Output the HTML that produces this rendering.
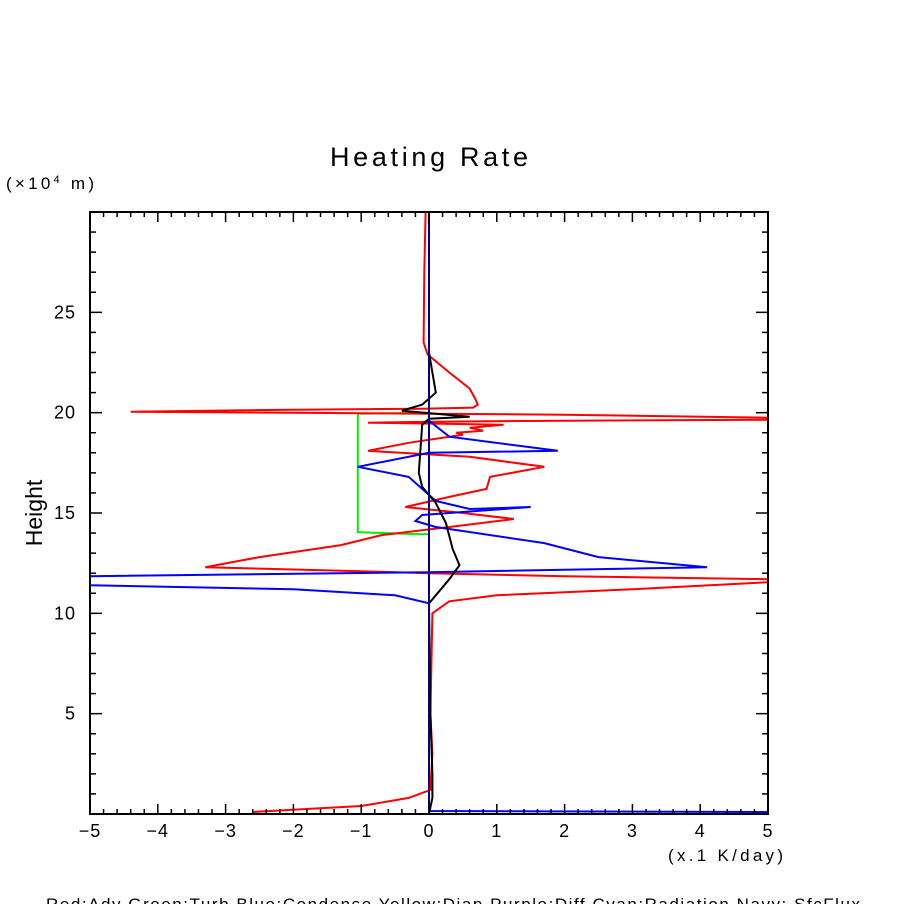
<!DOCTYPE html>
<html><head><meta charset="utf-8"><style>
html,body{margin:0;padding:0;background:#fff;}
svg text{font-family:"Liberation Sans",sans-serif;}
</style></head><body>
<svg id="chart" width="904" height="904" viewBox="0 0 904 904" xmlns="http://www.w3.org/2000/svg">
<rect width="904" height="904" fill="#fff"/>
<text x="330" y="166" font-size="27" textLength="198" lengthAdjust="spacing">Heating Rate</text>
<text x="6" y="189" font-size="17" textLength="88" lengthAdjust="spacing">(×10<tspan font-size="11" dy="-6">4</tspan><tspan dy="6"> m)</tspan></text>
<text transform="translate(42,513) rotate(-90)" font-size="23" text-anchor="middle">Height</text>
<text x="668" y="861" font-size="17" textLength="115" lengthAdjust="spacing">(x.1 K/day)</text>
<text x="46" y="910" font-size="17" textLength="814" lengthAdjust="spacing">Red:Adv  Green:Turb  Blue:Condense  Yellow:Diap  Purple:Diff  Cyan:Radiation  Navy: SfcFlux</text>
<g id="marks"></g>
<g id="axes"></g>
</svg>
<script>
const xTicks=[-5,-4,-3,-2,-1,0,1,2,3,4,5];
const yTicks=[5,10,15,20,25];
const redAdv=[[-0.05,30],[-0.07,27],[-0.08,23.5],[-0.02,22.9],[0.3,22],[0.6,21.2],[0.68,20.7],[0.72,20.4],[0.65,20.25],[-0.1,20.2],[-2,20.15],[-4.4,20.05],[-2,20.0],[0,19.95],[2,19.9],[5,19.75],[5,19.65],[2,19.6],[0,19.55],[-0.9,19.5],[0.2,19.45],[1.1,19.4],[0.6,19.25],[0.8,19.1],[0.4,19.0],[0.5,18.9],[-0.3,18.5],[-0.9,18.1],[0.6,17.8],[1.7,17.3],[0.9,16.8],[0.85,16.2],[0.3,15.8],[-0.35,15.3],[0.5,15.0],[1.25,14.7],[0.3,14.3],[-0.7,13.9],[-1.3,13.4],[-2.5,12.8],[-3.3,12.3],[-1,12.1],[0,12.0],[2,11.85],[5,11.7],[5,11.55],[3,11.2],[1,10.9],[0.3,10.6],[0.05,10.0],[0.02,5],[0.05,3],[0.02,1.2],[-0.3,0.8],[-1,0.4],[-2.6,0.1]];
const blueCond=[[0,30],[0,19.6],[0.3,18.8],[1.9,18.1],[0,18.0],[-1.05,17.3],[-0.3,16.8],[0.1,15.6],[0.6,15.2],[1.5,15.3],[0.7,15.1],[-0.1,14.9],[-0.2,14.6],[0.1,14.3],[1.7,13.5],[2.5,12.8],[4.1,12.3],[0,12.05],[-5,11.85],[-5,11.4],[-2,11.2],[-0.5,10.9],[0,10.5],[0,0.15],[5,0.1]];
const blackTot=[[0,30],[0,23],[0.05,22],[0.1,21],[-0.1,20.4],[-0.4,20.1],[0.6,19.8],[0,19.7],[-0.1,19.4],[-0.15,17],[-0.1,16.3],[0.1,15.5],[0.25,14.5],[0.35,13.2],[0.45,12.4],[0.3,11.7],[0.1,10.9],[0,10.5],[0.02,5],[0.05,2],[0.05,0.8],[0,0]];
const greenTurb=[[0,20],[-1.05,19.95],[-1.05,14.05],[-0.2,13.95],[0,13.95]];
const navySfc=[[0,0],[0,30]];
const L=90,R=768,T=212,B=814,XMIN=-5,XMAX=5,YMIN=0,YMAX=30;
const sx=v=>L+(v-XMIN)/(XMAX-XMIN)*(R-L);
const sy=v=>B-(v-YMIN)/(YMAX-YMIN)*(B-T);
const NS='http://www.w3.org/2000/svg';
const marks=document.getElementById('marks'),axes=document.getElementById('axes');
const defs=document.createElementNS(NS,'clipPath');defs.setAttribute('id','clip');
const cr=document.createElementNS(NS,'rect');cr.setAttribute('x',L);cr.setAttribute('y',T);cr.setAttribute('width',R-L);cr.setAttribute('height',B-T);defs.appendChild(cr);
document.getElementById('chart').appendChild(defs);
marks.setAttribute('clip-path','url(#clip)');
function line(data,color,name){
  const p=document.createElementNS(NS,'polyline');
  p.setAttribute('points',data.map(d=>sx(d[0]).toFixed(1)+','+sy(d[1]).toFixed(1)).join(' '));
  p.setAttribute('fill','none');p.setAttribute('stroke',color);p.setAttribute('stroke-width','2');
  
  
  marks.appendChild(p);
}
line(greenTurb,'#00ee00','turb-series');
line(redAdv,'#ff0000','adv-series');
line(blueCond,'#0000ff','condense-series');
line(blackTot,'#000000','total-series');
line(navySfc,'#000080','sfcflux-series');
function seg(x1,y1,x2,y2){const l=document.createElementNS(NS,'line');l.setAttribute('x1',x1);l.setAttribute('y1',y1);l.setAttribute('x2',x2);l.setAttribute('y2',y2);l.setAttribute('stroke','#000');l.setAttribute('stroke-width','1.5');axes.appendChild(l);}
const frame=document.createElementNS(NS,'rect');
frame.setAttribute('x',L);frame.setAttribute('y',T);frame.setAttribute('width',R-L);frame.setAttribute('height',B-T);
frame.setAttribute('fill','none');frame.setAttribute('stroke','#000');frame.setAttribute('stroke-width','2');


axes.appendChild(frame);
for(let i=0;i<=50;i++){const v=XMIN+i*0.2,x=sx(v),len=(i%5===0)?10:5;seg(x,B,x,B-len);seg(x,T,x,T+len);}
for(let v=1;v<30;v++){const y=sy(v),len=(v%5===0)?12:6;seg(L,y,L+len,y);seg(R,y,R-len,y);}
xTicks.forEach(v=>{const t=document.createElementNS(NS,'text');t.setAttribute('x',sx(v));t.setAttribute('y',B+23);t.setAttribute('font-size','18');t.setAttribute('letter-spacing','1');t.setAttribute('text-anchor','middle');t.textContent=(v<0?'\u2212'+(-v):String(v));


axes.appendChild(t);});
yTicks.forEach(v=>{const t=document.createElementNS(NS,'text');t.setAttribute('x',L-14);t.setAttribute('y',sy(v)+6);t.setAttribute('font-size','18');t.setAttribute('letter-spacing','1');t.setAttribute('text-anchor','end');t.textContent=String(v);


axes.appendChild(t);});
</script>
</body></html>
